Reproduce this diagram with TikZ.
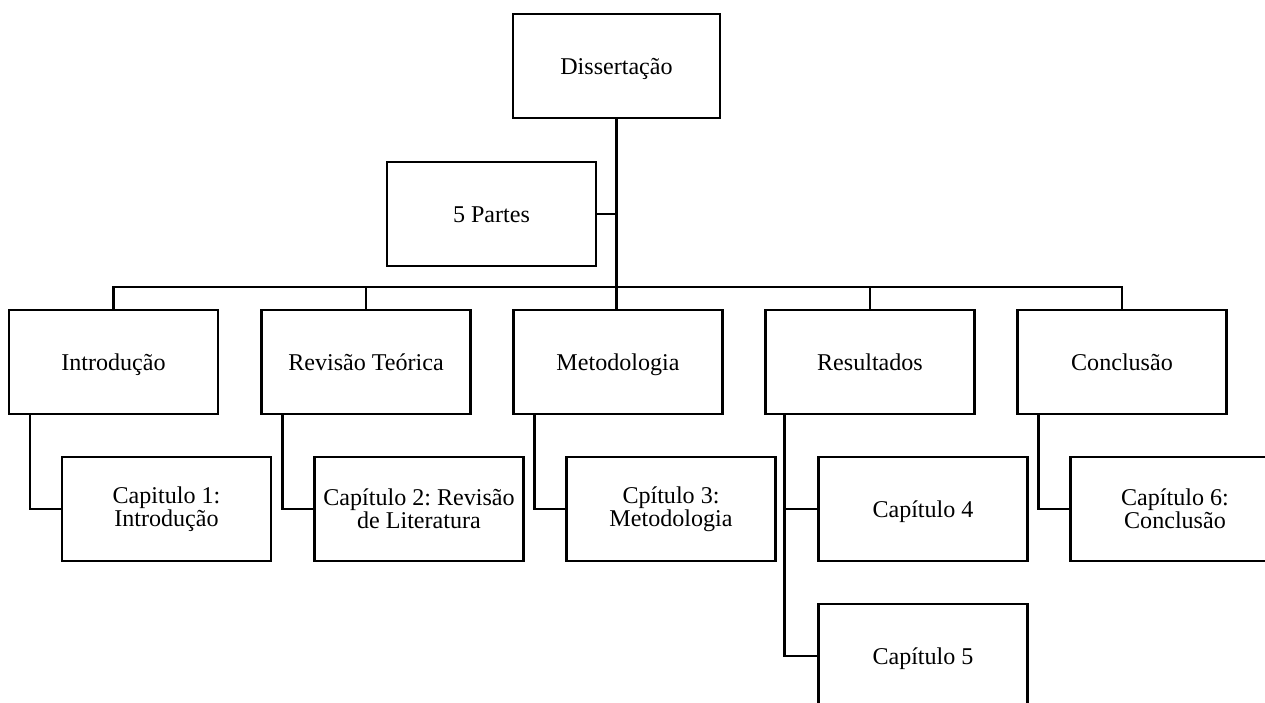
\documentclass[tikz,border=0pt]{standalone}
\usepackage{fontspec}
\setmainfont{Liberation Serif}
\usepackage{tikz}
\usetikzlibrary{positioning,calc}
\frenchspacing
\tikzset{
  box/.style  = {draw=black, line width=1.3pt, rectangle, align=center,
                 inner xsep=1pt, minimum width=4.18cm, minimum height=2.08cm,
                 font=\fontsize{13.7}{13}\selectfont},
  one/.style  = {box, text height=2.2ex, text depth=0.2ex},
  ln/.style   = {line width=1.3pt},
}
\begin{document}
\begin{tikzpicture}
\clip (0,0) rectangle (25.3,-14.06);
%% ---- top -------------------------------------------------------------
\node[one, minimum width=4.14cm] (diss) at (12.33,-1.32) {Dissertação};
\node[one] (parts) at (9.83,-4.28) {5 Partes};

%% ---- five parts ------------------------------------------------------
\node[one] (intro) at (2.27,-7.24)  {Introdução};
\node[one] (rev)   at (7.32,-7.24)  {Revisão Teórica};
\node[one] (met)   at (12.36,-7.24) {Metodologia};
\node[one] (res)   at (17.40,-7.24) {Resultados};
\node[one] (conc)  at (22.44,-7.24) {Conclusão};

%% ---- chapters --------------------------------------------------------
\node[box] (cap1) at (3.33,-10.18)  {Capitulo 1:\\Introdução};
\node[box] (cap2) at (8.38,-10.18)  {Capítulo 2: Revisão\\de Literatura};
\node[box] (cap3) at (13.42,-10.18) {Cpítulo 3:\\Metodologia};
\node[one] (cap4) at (18.46,-10.18) {Capítulo 4};
\node[one] (cap5) at (18.46,-13.12) {Capítulo 5};
\node[box] (cap6) at (23.50,-10.18) {Capítulo 6:\\Conclusão};

%% ---- connectors ------------------------------------------------------
\coordinate (bus) at (12.36,-5.74);
\draw[ln] (diss.south) -- (diss.south |- met.north);
\draw[ln] (parts.east) -- (parts.east -| diss.south);
\draw[ln] (intro.north) |- (bus) -| (conc.north);
\foreach \p in {rev,res}
  \draw[ln] (\p.north) -- (\p.north |- bus);

\draw[ln] ([xshift=0.44cm]intro.south west) |- (cap1.west);
\draw[ln] ([xshift=0.44cm]rev.south west)   |- (cap2.west);
\draw[ln] ([xshift=0.44cm]met.south west)   |- (cap3.west);
\coordinate (rj) at ([xshift=0.4cm]res.south west);
\draw[ln] (rj) |- (cap5.west);
\draw[ln] (cap4.west) -- (cap4.west -| rj);
\draw[ln] ([xshift=0.44cm]conc.south west)  |- (cap6.west);
\end{tikzpicture}
\end{document}
